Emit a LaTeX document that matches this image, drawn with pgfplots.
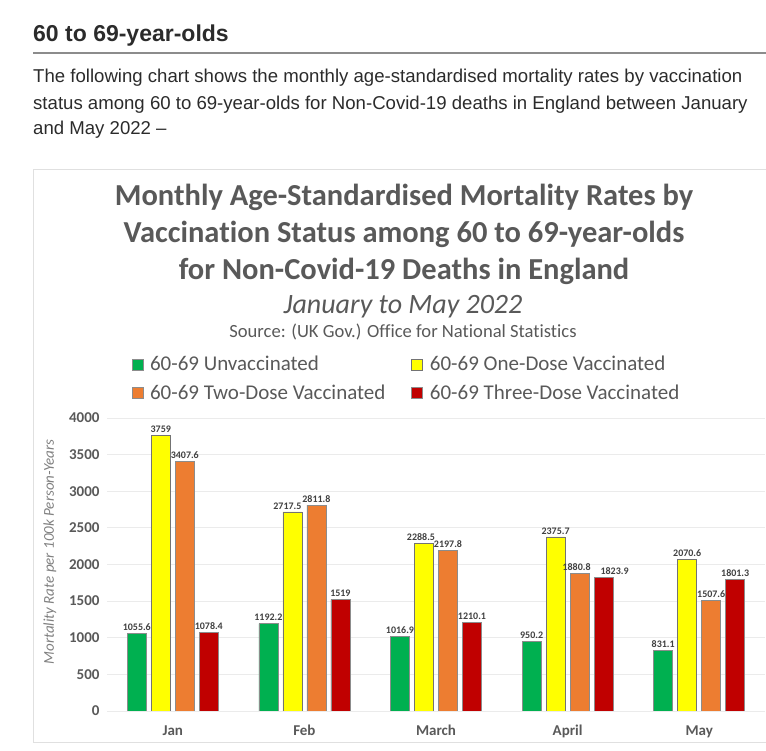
\documentclass[border=0pt]{standalone}
\usepackage{fontspec}
\setmainfont{Liberation Sans}
\newfontfamily\calfont[Ligatures=NoCommon]{Carlito}
\usepackage{pgfplots}
\pgfplotsset{compat=1.18}
\definecolor{cgreen}{HTML}{00B050}
\definecolor{cyellow}{HTML}{FFFF00}
\definecolor{corange}{HTML}{ED7D31}
\definecolor{cred}{HTML}{C00000}
\definecolor{txtgray}{HTML}{595959}
\definecolor{pagetxt}{HTML}{2B2B2B}
\definecolor{lblgray}{HTML}{404040}
\pgfplotstableread{
x unv one two three dxone dxtwo dxthree
0 1055.6 3759   3407.6 1078.4 0 0 0
1 1192.2 2717.5 2811.8 1519   -5 0 0
2 1016.9 2288.5 2197.8 1210.1 -3 0 0
3 950.2  2375.7 1880.8 1823.9 0 -3 11
4 831.1  2070.6 1507.6 1801.3 0 0 0
}\datatable
\begin{document}
\begin{tikzpicture}
\path[use as bounding box] (0,0) rectangle (766pt,750pt);
% page header
\node[anchor=base west, inner sep=0, text=pagetxt, font=\fontsize{23}{27}\selectfont\bfseries] at (33pt,708pt) {60 to 69-year-olds};
\draw[line width=2pt, color=black!45] (33pt,697pt) -- (766pt,697pt);
\node[anchor=base west, inner sep=0, text=pagetxt, font=\fontsize{18.6}{22}\selectfont] at (33pt,667pt) {The following chart shows the monthly age-standardised mortality rates by vaccination};
\node[anchor=base west, inner sep=0, text=pagetxt, font=\fontsize{18.6}{22}\selectfont] at (33pt,640pt) {status among 60 to 69-year-olds for Non-Covid-19 deaths in England between January};
\node[anchor=base west, inner sep=0, text=pagetxt, font=\fontsize{18.6}{22}\selectfont] at (33pt,615pt) {and May 2022 --};
% chart box
\draw[line width=1pt, color=black!12] (33pt,8pt) rectangle (767pt,580pt);
% titles
\node[anchor=base, inner sep=0, text=txtgray, font=\calfont\fontsize{30.5}{34}\selectfont\bfseries] at (404pt,544pt) {Monthly Age-Standardised Mortality Rates by};
\node[anchor=base, inner sep=0, text=txtgray, font=\calfont\fontsize{30.5}{34}\selectfont\bfseries] at (404pt,507pt) {Vaccination Status among 60 to 69-year-olds};
\node[anchor=base, inner sep=0, text=txtgray, font=\calfont\fontsize{30.5}{34}\selectfont\bfseries] at (404pt,470pt) {for Non-Covid-19 Deaths in England};
\node[anchor=base, inner sep=0, text=txtgray, font=\calfont\fontsize{28}{31}\selectfont\itshape] at (403pt,436pt) {January to May 2022};
\node[anchor=base, inner sep=0, text=txtgray, font=\calfont\fontsize{18.6}{21}\selectfont] at (403pt,412pt) {Source: (UK Gov.) Office for National Statistics};
% y label
\node[rotate=90, inner sep=0, text=black!50, font=\calfont\fontsize{15}{17}\selectfont\itshape] at (50pt,198pt) {Mortality Rate per 100k Person-Years};
\begin{axis}[
  at={(107pt,39pt)}, anchor=south west,
  scale only axis, width=658pt, height=293pt,
  xmin=-0.5, xmax=4.5, ymin=0, ymax=4000,
  ybar=5pt, bar width=19pt,
  axis line style={draw=none},
  major tick length=0pt,
  ymajorgrids, grid style={line width=0.8pt, color=black!8},
  xtick={0,1,2,3,4},
  xticklabels={Jan,Feb,March,April,May},
  ytick={0,500,...,4000},
  /pgf/number format/assume math mode=true,
  /pgf/number format/1000 sep={},
  yticklabel style={font=\calfont\fontsize{15}{17}\selectfont\bfseries, text=txtgray, xshift=-4pt},
  xticklabel style={font=\calfont\fontsize{15}{17}\selectfont\bfseries, text=txtgray, yshift=-10pt, text height=11pt, text depth=3pt},
  nodes near coords,
  nodes near coords style={font=\calfont\fontsize{10}{12}\selectfont\bfseries, text=lblgray, /pgf/number format/fixed, /pgf/number format/precision=1, inner sep=2.5pt},
  legend columns=2,
  legend cell align=left,
  legend style={at={(axis description cs:0.037,1.218)}, anchor=north west, draw=none, fill=none,
    font=\calfont\fontsize{21}{24}\selectfont, text=txtgray, inner sep=0pt, row sep=8.5pt,
    /tikz/every even column/.append style={column sep=24pt},
    /tikz/every odd column/.append style={column sep=5pt}},
  legend image code/.code={\draw[#1] (0pt,-5.5pt) rectangle (11pt,5.5pt);},
]
\addplot[fill=cgreen, draw=black!45, line width=0.5pt] table[x=x,y=unv] {\datatable};
\addplot[fill=cyellow, draw=black!55, line width=0.5pt,
  visualization depends on={\thisrow{dxone}\as\dxval},
  nodes near coords style={xshift=\dxval pt}] table[x=x,y=one] {\datatable};
\addplot[fill=corange, draw=black!45, line width=0.5pt,
  visualization depends on={\thisrow{dxtwo}\as\dxval},
  nodes near coords style={xshift=\dxval pt}] table[x=x,y=two] {\datatable};
\addplot[fill=cred, draw=black!45, line width=0.5pt,
  visualization depends on={\thisrow{dxthree}\as\dxval},
  nodes near coords style={xshift=\dxval pt}] table[x=x,y=three] {\datatable};
\legend{60-69 Unvaccinated, 60-69 One-Dose Vaccinated, 60-69 Two-Dose Vaccinated, 60-69 Three-Dose Vaccinated}
\end{axis}
\end{tikzpicture}
\end{document}
